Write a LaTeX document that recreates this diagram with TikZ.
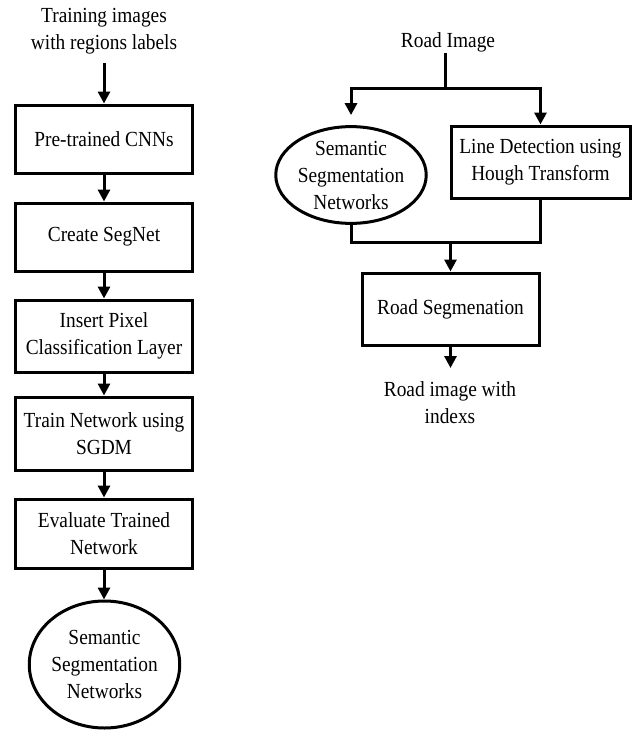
\documentclass[tikz,border=0pt]{standalone}
\usepackage{fontspec}
\setmainfont[FakeStretch=0.9]{Liberation Serif}
\usetikzlibrary{arrows.meta,shapes.geometric}
\begin{document}
\begin{tikzpicture}[x=1pt,y=-1pt,
  font=\fontsize{21.5}{27}\selectfont,
  line width=3pt,
  arr/.style={-{Triangle[width=12pt,length=12pt]},line width=3pt},
  boxnode/.style={draw,line width=3pt,minimum width=177pt,inner sep=0pt,align=center},
  ellnode/.style={draw,ellipse,line width=3pt,inner sep=0pt,align=center},
  txt/.style={align=center,inner sep=0pt}]
\useasboundingbox (0,0) rectangle (632,731);
% left column
\node[txt] (t1) at (104,31) {Training images\\with regions labels};
\coordinate (t1s) at (104,63);
\node[boxnode,minimum height=68pt] (b1) at (104,139) {Pre-trained CNNs};
\node[boxnode,minimum height=68pt] (b2) at (104,237) {Create SegNet};
\node[boxnode,minimum height=72pt] (b3) at (104,336) {Insert Pixel\\Classification Layer};
\node[boxnode,minimum height=73pt] (b4) at (104,433.5) {Train Network using\\SGDM};
\node[boxnode,minimum height=69pt] (b5) at (104,533.5) {Evaluate Trained\\Network};
\node[ellnode,minimum width=145pt,minimum height=127pt] (e1) at (104.5,664.5) {Semantic\\Segmentation\\Networks};
\draw[arr] (t1s) -- (b1.north);
\draw[arr] (b1) -- (b2);
\draw[arr] (b2) -- (b3);
\draw[arr] (b3) -- (b4);
\draw[arr] (b4) -- (b5);
\draw[arr] (b5.south) -- (b5.south |- e1.north);
% right column
\node[txt] (r0) at (448,42) {Road Image};
\coordinate (r0s) at (445,53);
\coordinate (sp) at (445,88);
\node[ellnode,minimum width=143pt,minimum height=96pt] (e2) at (351,175) {Semantic\\Segmentation\\Networks};
\node[boxnode,minimum width=179pt,minimum height=72pt] (r1) at (540.5,162) {Line Detection using\\Hough Transform};
\node[boxnode,minimum height=72pt] (r2) at (450.5,309) {Road Segmenation};
\node[txt] (r3) at (450,402.5) {Road image with\\indexs};
\coordinate (mg) at (450.5,242);
\coordinate (r2e) at (450.5,368);
\draw (r0s) -- (sp);
\draw[arr] (sp) -| ([yshift=10pt]e2.north);
\draw[arr] (sp) -| (r1.north);
\draw (e2.south) |- (mg) -| (r1.south);
\draw[arr] (mg) -- (r2.north);
\draw[arr] (r2.south) -- (r2e);
\end{tikzpicture}
\end{document}
